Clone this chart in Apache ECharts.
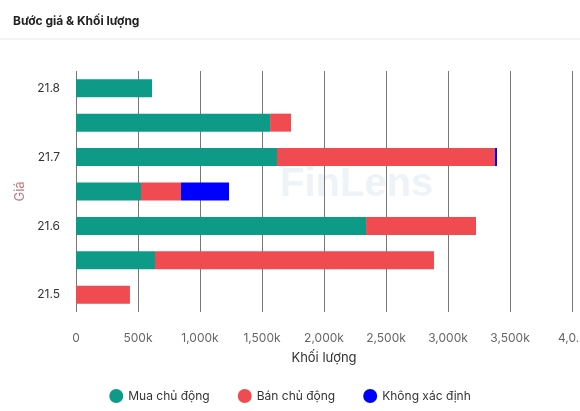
<!DOCTYPE html>
<html><head><meta charset="utf-8">
<script src="https://cdn.jsdelivr.net/npm/echarts@6/dist/echarts.min.js"></script>
<style>html,body{margin:0;padding:0;background:#fff}#c{width:580px;height:411px}</style>
</head><body><div id="c"></div>
<script>
const categories = ['21.5','21.55','21.6','21.65','21.7','21.75','21.8'];
const buyActive = [0, 637000, 2339000, 524000, 1621000, 1565000, 613000];
const sellActive = [435000, 2250000, 887000, 323000, 1758000, 169000, 0];
const unknown = [0, 0, 0, 387000, 16000, 0, 0];
const yLabels = {'21.5':'21.5','21.6':'21.6','21.7':'21.7','21.8':'21.8'};
const chart = echarts.init(document.getElementById('c'));
const fmt = v => v === 0 ? '0' : v === 4000000 ? '4,0...' : (v/1000).toLocaleString('en-US') + 'k';
const mk = (name, data, color) => ({name, type:'bar', stack:'s', data, barWidth:18, itemStyle:{color}});
chart.setOption({
  animation:false,
  textStyle:{fontFamily:'Inter, Noto Sans, sans-serif'},
  title:{text:'Bước giá & Khối lượng', left:8, top:10, textStyle:{fontSize:12, fontWeight:'bold', color:'#222'}},
  graphic:[
    {type:'line', shape:{x1:0,y1:39,x2:580,y2:39}, style:{stroke:'#e5e7eb', lineWidth:1}},
    {type:'text', left:280, top:165, style:{text:'FinLens', fontSize:40, fontWeight:'bold', fill:'rgba(120,160,200,0.13)'}}
  ],
  grid:{left:76, right:8, top:71, bottom:99, containLabel:false, outerBoundsMode:'none'},
  legend:{bottom:3, icon:'circle', itemWidth:14, itemHeight:14, itemGap:28, textStyle:{fontSize:12, color:'#333'}},
  xAxis:{type:'value', min:0, max:4000000, interval:500000, name:'Khối lượng', nameLocation:'middle', nameGap:40,
    nameTextStyle:{fontSize:13, color:'#333'},
    axisLabel:{formatter:fmt, color:'#666', fontSize:12, margin:20, hideOverlap:false},
    splitLine:{lineStyle:{color:'#777'}}, axisLine:{show:false}},
  yAxis:{type:'category', data:categories, name:'Giá', nameLocation:'middle', nameGap:48,
    nameTextStyle:{fontSize:13, color:'#c0787a'},
    axisLabel:{interval:0, formatter:v => yLabels[v] || '', color:'#333', fontSize:12, margin:16},
    axisTick:{show:false}, axisLine:{show:false}},
  series:[mk('Mua chủ động', buyActive, '#0d9b88'), mk('Bán chủ động', sellActive, '#ef4b50'), mk('Không xác định', unknown, '#0000ff')]
});
</script></body></html>
